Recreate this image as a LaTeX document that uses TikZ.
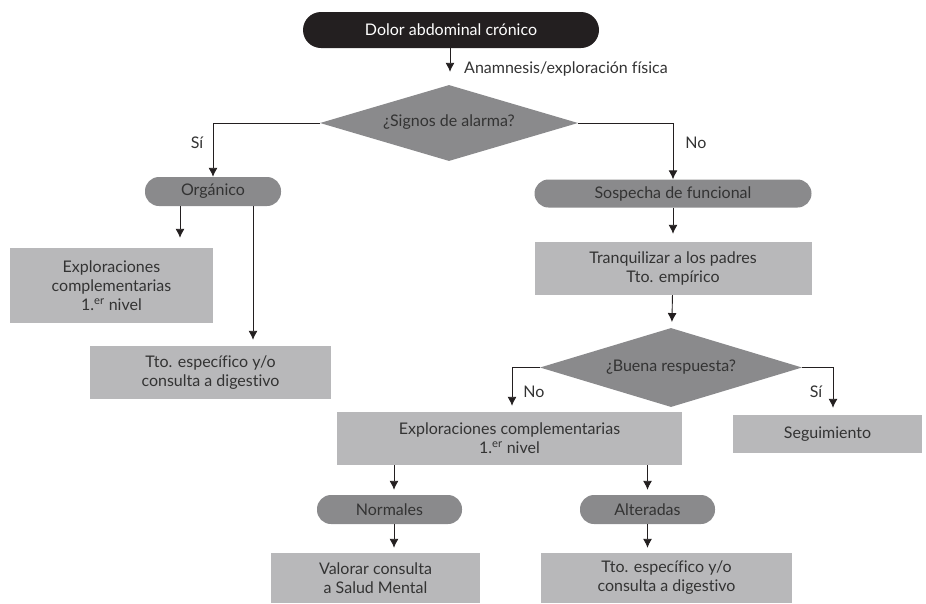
\documentclass[tikz,border=0pt]{standalone}
\usepackage{fontspec}
\setmainfont{Lato}[Ligatures=NoCommon]
\usetikzlibrary{shapes.geometric,arrows.meta}
\definecolor{boxgray}{HTML}{B8B8BA}
\definecolor{pillgray}{HTML}{8A8A8C}
\definecolor{nearblack}{HTML}{231F20}
\definecolor{txtgray}{HTML}{333333}

\begin{document}
\begin{tikzpicture}[x=1pt,y=-1pt,
    font=\fontsize{16}{19}\selectfont,
    >={Latex[length=9pt,width=9pt]},
    line/.style={line width=0.9pt,draw=nearblack},
    box/.style={fill=boxgray,text=txtgray,align=center,inner sep=0pt},
    pill/.style={fill=pillgray,text=txtgray,rounded corners=14pt,inner sep=0pt,minimum height=29pt},
    choice/.style={diamond,aspect=3.4,fill=pillgray,text=txtgray,inner sep=0pt},
    lbl/.style={text=txtgray,inner sep=1pt}]
        \useasboundingbox (0,0) rectangle (926,603);

        \node (dac) [fill=nearblack,text=white,rounded corners=18pt,inner sep=0pt,
            minimum width=296pt,minimum height=36pt] at (451,30) {Dolor abdominal crónico};
        \node (sig) [choice,minimum width=258pt,minimum height=76pt] at (449,123) {\raisebox{4pt}{¿Signos de alarma?}};
        \node (ana) [lbl,anchor=west] at (463,69) {Anamnesis/exploración física};

        \node (org) [pill,minimum width=136pt] at (213,191.5) {Orgánico};
        \node (exp1) [box,minimum width=203pt,minimum height=75pt] at (111.5,285.5)
            {Exploraciones\\complementarias\\1.\textsuperscript{er} nivel};
        \node (tto1) [box,minimum width=241pt,minimum height=53pt] at (210.5,372.5)
            {Tto. específico y/o\\consulta a digestivo};

        \node (sos) [pill,minimum width=277pt,minimum height=28pt] at (673,193.5) {Sospecha de funcional};
        \node (tra) [box,minimum width=277pt,minimum height=53pt] at (673,268.5)
            {Tranquilizar a los padres\\Tto. empírico};
        \node (bue) [choice,minimum width=262pt,minimum height=79pt] at (671,367.5) {\raisebox{4pt}{¿Buena respuesta?}};
        \node (seg) [box,minimum width=189pt,minimum height=38pt] at (827.5,434) {Seguimiento};

        \node (exp2) [box,minimum width=345pt,minimum height=53pt] at (509.5,438.5)
            {Exploraciones complementarias\\1.\textsuperscript{er} nivel};
        \node (nor) [pill,minimum width=145pt] at (389.5,509.5) {Normales};
        \node (alt) [pill,minimum width=135pt] at (647.5,509.5) {Alteradas};
        \node (val) [box,minimum width=209pt,minimum height=50pt] at (375.5,578)
            {Valorar consulta\\a Salud Mental};
        \node (tto2) [box,minimum width=251pt,minimum height=50pt] at (666.5,578)
            {Tto. específico y/o\\consulta a digestivo};

        \node (si1) [lbl] at (197,143) {Sí};
        \node (no1) [lbl] at (696,143) {No};
        \node (no2) [lbl] at (534,392) {No};
        \node (si2) [lbl] at (816,392) {Sí};

        \draw[line,->,shorten >=13pt] (dac.south -| 450,0) -- (sig.north -| 450,0);
        \draw[line,->] (sig.west) -| (org.north);
        \draw[line,->] (sig.east) -| (sos.north);
        \draw[line,->,shorten >=10pt] (org.south -| 180,0) -- (exp1.north -| 180,0);
        \draw[line,->,shorten >=6pt] (org.south -| 253,0) -- (tto1.north -| 253,0);
        \draw[line,->,shorten >=8pt] (sos) -- (tra);
        \draw[line,->,shorten >=6pt] (tra) -- (bue);
        \draw[line,->,shorten >=6pt] (bue.west) -| (exp2.north -| 512,0);
        \draw[line,->,shorten >=7pt] (bue.east) -| (seg.north -| 833,0);
        \draw[line,->,shorten >=5pt] (exp2.south -| 394,0) -- (nor.north -| 394,0);
        \draw[line,->,shorten >=5pt] (exp2.south -| alt) -- (alt);
        \draw[line,->,shorten >=5pt] (nor.south -| 394,0) -- (val.north -| 394,0);
        \draw[line,->,shorten >=5pt] (alt) -- (tto2.north -| alt);
      \end{tikzpicture}
\end{document}
